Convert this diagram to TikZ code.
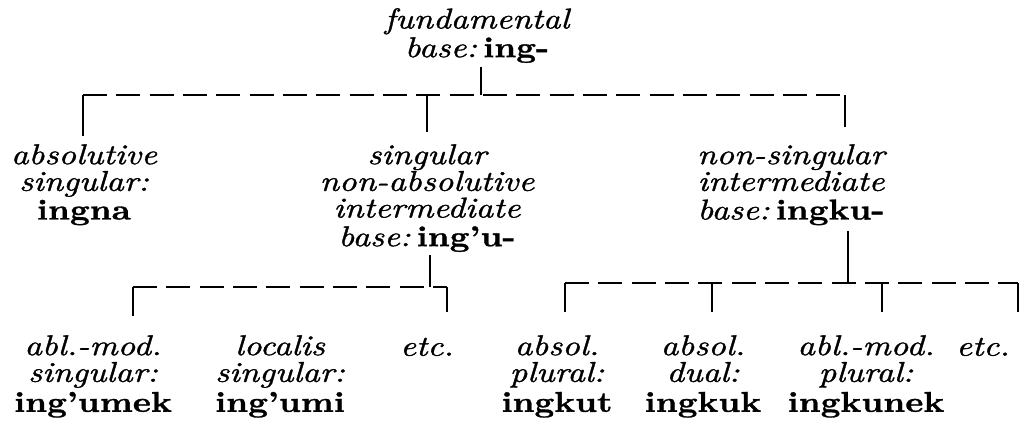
\documentclass[tikz,border=0pt]{standalone}
\usepackage{fontspec}
\setmainfont{lmroman10-regular.otf}[ItalicFont=lmroman10-italic.otf,BoldFont=lmroman10-bold.otf,BoldItalicFont=lmroman10-bolditalic.otf,FakeStretch=1.2,ItalicFeatures={FakeBold=1.2},BoldFeatures={FakeBold=1}]
\usetikzlibrary{calc}
\newcommand{\fm}[1]{{\upshape\bfseries #1}}
\newcommand{\bsp}{\hspace{0.22em}}
\begin{document}
\begin{tikzpicture}[x=0.75pt,y=-0.75pt,
  lbl/.style={align=center,inner sep=0pt,anchor=north,font=\fontsize{21.5}{20}\selectfont\itshape},
  stem/.style={line width=1.6pt},
  dashline/.style={line width=1.6pt,dash pattern=on 18pt off 7pt}]
\useasboundingbox (0,0) rectangle (1034,428);
% nodes
\node[lbl] (fund)  at (477,8)  {fundamental\\[1.5pt]base:\bsp\fm{ing-}};
\node[lbl] (abs)   at (84,144)  {absolutive\\singular:\\[1.5pt]\fm{ingna}};
\node[lbl] (sgl)   at (427,144) {singular\\non-absolutive\\intermediate\\[1.5pt]base:\bsp\fm{ing'u-}};
\node[lbl] (nsg)   at (791,144) {non-singular\\intermediate\\[1.5pt]base:\bsp\fm{ingku-}};
\node[lbl] (ablsg) at (93,335)  {abl.-mod.\\singular:\\[2.5pt]\fm{ing'umek}};
\node[lbl] (loc)   at (280,335) {localis\\singular:\\[2.5pt]\fm{ing'umi}};
\node[lbl] (etcA)  at (427,337.5) {etc.};
\node[lbl] (abspl) at (557,335) {absol.\\plural:\\[2.5pt]\fm{ingkut}};
\node[lbl] (absdu) at (703,335) {absol.\\dual:\\[2.5pt]\fm{ingkuk}};
\node[lbl] (ablpl) at (866,335) {abl.-mod.\\plural:\\[2.5pt]\fm{ingkunek}};
\node[lbl] (etcB)  at (983,337.5) {etc.};
% level 1
\coordinate (j0)  at (481,95);
\coordinate (h1L) at (83,95);
\coordinate (h1M) at (427,95);
\coordinate (h1R) at (845,95);
\draw[dashline] (h1L) -- (h1R);
\draw[stem,shorten >=3pt] (j0) -- (j0 |- fund.south);
\draw[stem,shorten >=6pt] (h1L) -- (h1L |- abs.north);
\draw[stem,shorten >=9pt] (h1M) -- (h1M |- sgl.north);
\draw[stem,shorten >=13pt] (h1R) -- (h1R |- nsg.north);
% level 2 left
\coordinate (j1)  at (430,287);
\coordinate (h2L) at (133,287);
\coordinate (h2R) at (447,287);
\draw[dashline] (h2L) -- (h2R);
\draw[stem,shorten >=2pt] (j1) -- (j1 |- sgl.south);
\draw[stem,shorten >=14pt] (h2L) -- (h2L |- ablsg.north);
\draw[stem,shorten >=19pt] (h2R) -- (h2R |- etcA.north);
% level 2 right
\coordinate (j2)  at (848,283);
\coordinate (h3A) at (565,283);
\coordinate (h3B) at (712,283);
\coordinate (h3C) at (882,283);
\coordinate (h3D) at (1018,283);
\draw[dashline] (h3A) -- (h3D);
\draw[stem,shorten >=4pt] (j2) -- (j2 |- nsg.south);
\draw[stem,shorten >=17pt] (h3A) -- (h3A |- abspl.north);
\draw[stem,shorten >=17pt] (h3B) -- (h3B |- absdu.north);
\draw[stem,shorten >=17pt] (h3C) -- (h3C |- ablpl.north);
\draw[stem,shorten >=19pt] (h3D) -- (h3D |- etcB.north);
\end{tikzpicture}
\end{document}
